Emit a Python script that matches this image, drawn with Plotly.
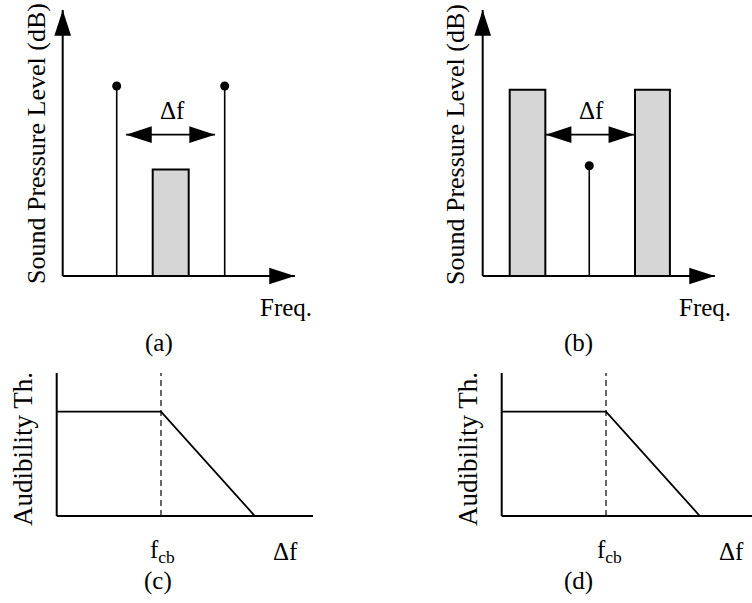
import plotly.graph_objects as go

W, H = 752, 603

# ---------------- data ----------------
# panel (a): two tones around a narrow noise band
a_tone_freqs = [3.0, 9.0]
a_tone_levels = [10.0, 10.0]
a_noise_band = [5.0, 7.0]
a_noise_level = 5.6
a_delta_f = [3.52, 8.46]
a_delta_level = 7.44
# panel (b): a tone between two noise bands
b_noise_bands = [[1.5, 3.48], [8.46, 10.4]]
b_noise_level = 9.8
b_tone_freq = 5.92
b_tone_level = 5.8
b_delta_f = [3.5, 8.42]
# axes extents (a),(b)
ab_x_axis_end = 12.9
ab_y_axis_end = 14.0
# panels (c),(d): audibility threshold vs delta f
th_x_c = [0.0, 1.0, 1.9, 2.457]
th_y_c = [1.0, 1.0, 0.0, 0.0]
th_x_d = [0.0, 1.0, 1.9, 2.4]
th_y_d = [1.0, 1.0, 0.0, 0.0]
fcb = 1.0
cd_y_axis_end = 1.371
cd_x_axis_end_c = 2.457
cd_x_axis_end_d = 2.4

FONT = "Liberation Serif"
INK = "#000000"
GRAY = "#d6d6d6"

# ---------------- panel geometry (px) ----------------
panels = {
    "a": dict(ox=62.7, oy=276, sx=18.0, sy=19.0, xr=[-1.0, 14.0], yr=[-1.0, 14.5]),
    "b": dict(ox=482.7, oy=276, sx=18.0, sy=19.0, xr=[-1.0, 14.0], yr=[-1.0, 14.5]),
    "c": dict(ox=56.7, oy=516, sx=104.3, sy=104.3, xr=[-0.05, 2.6], yr=[-0.05, 1.45]),
    "d": dict(ox=501.7, oy=516, sx=104.3, sy=104.3, xr=[-0.05, 2.45], yr=[-0.05, 1.45]),
}

fig = go.Figure()

axis_ids = {}
for i, key in enumerate(["a", "b", "c", "d"], start=1):
    p = panels[key]
    x0 = max(0.0, p["ox"] + p["xr"][0] * p["sx"])
    x1 = min(float(W), p["ox"] + p["xr"][1] * p["sx"])
    y0 = min(float(H), p["oy"] - p["yr"][0] * p["sy"])
    y1 = max(0.0, p["oy"] - p["yr"][1] * p["sy"])
    # range follows the (clamped) domain so the px-per-unit scale is exact
    xr = [(x0 - p["ox"]) / p["sx"], (x1 - p["ox"]) / p["sx"]]
    yr = [(p["oy"] - y0) / p["sy"], (p["oy"] - y1) / p["sy"]]
    xd = [round(x0 / W, 6), round(x1 / W, 6)]
    yd = [round(1 - y0 / H, 6), round(1 - y1 / H, 6)]
    sfx = "" if i == 1 else str(i)
    fig.layout["xaxis" + sfx] = dict(domain=xd, range=xr, visible=False,
                                     anchor="y" + sfx, fixedrange=True)
    fig.layout["yaxis" + sfx] = dict(domain=yd, range=yr, visible=False,
                                     anchor="x" + sfx, fixedrange=True)
    axis_ids[key] = ("x" + sfx, "y" + sfx)


def line(key, xs, ys, width=2, dash="solid"):
    xa, ya = axis_ids[key]
    fig.add_trace(go.Scatter(x=xs, y=ys, mode="lines", xaxis=xa, yaxis=ya,
                             line=dict(color=INK, width=width, dash=dash),
                             hoverinfo="skip", showlegend=False))


def arrowheads(key, xs, ys, angles, size=27):
    xa, ya = axis_ids[key]
    fig.add_trace(go.Scatter(x=xs, y=ys, mode="markers", xaxis=xa, yaxis=ya,
                             marker=dict(symbol="arrow", size=size, angle=angles,
                                         color=INK, line=dict(width=0)),
                             cliponaxis=False, hoverinfo="skip", showlegend=False))


def bar(key, band, level):
    xa, ya = axis_ids[key]
    fig.add_trace(go.Bar(x=[(band[0] + band[1]) / 2], y=[level], width=[band[1] - band[0]],
                         xaxis=xa, yaxis=ya, marker=dict(color=GRAY, line=dict(color=INK, width=2)),
                         hoverinfo="skip", showlegend=False))


def dots(key, xs, ys):
    xa, ya = axis_ids[key]
    fig.add_trace(go.Scatter(x=xs, y=ys, mode="markers", xaxis=xa, yaxis=ya,
                             marker=dict(symbol="circle", size=9, color=INK),
                             cliponaxis=False, hoverinfo="skip", showlegend=False))


# ---- panel (a)
bar("a", a_noise_band, a_noise_level)
line("a", [0, ab_x_axis_end], [0, 0], width=2)
line("a", [0, 0], [0, ab_y_axis_end], width=2)
arrowheads("a", [ab_x_axis_end, 0], [0, ab_y_axis_end], [90, 0])
for f, lv in zip(a_tone_freqs, a_tone_levels):
    line("a", [f, f], [0, lv], width=1.6)
dots("a", a_tone_freqs, a_tone_levels)
line("a", a_delta_f, [a_delta_level, a_delta_level], width=1.6)
arrowheads("a", a_delta_f, [a_delta_level, a_delta_level], [270, 90], size=27)

# ---- panel (b)
for band in b_noise_bands:
    bar("b", band, b_noise_level)
line("b", [0, ab_x_axis_end], [0, 0], width=2)
line("b", [0, 0], [0, ab_y_axis_end], width=2)
arrowheads("b", [ab_x_axis_end, 0], [0, ab_y_axis_end], [90, 0])
line("b", [b_tone_freq, b_tone_freq], [0, b_tone_level], width=1.6)
dots("b", [b_tone_freq], [b_tone_level])
line("b", b_delta_f, [a_delta_level, a_delta_level], width=1.6)
arrowheads("b", b_delta_f, [a_delta_level, a_delta_level], [270, 90], size=27)

# ---- panels (c) and (d)
for key, tx, ty, xend in (("c", th_x_c, th_y_c, cd_x_axis_end_c), ("d", th_x_d, th_y_d, cd_x_axis_end_d)):
    line(key, [fcb, fcb], [0, cd_y_axis_end], width=1.2, dash="6px,4px")
    line(key, [0, xend], [0, 0], width=2)
    line(key, [0, 0], [0, cd_y_axis_end], width=2)
    line(key, tx, ty, width=1.8)

# ---------------- text ----------------
def px(x, y):
    return x / W, 1 - y / H


def label(text, x, y, size=25, angle=0):
    fx, fy = px(x, y)
    fig.add_annotation(text=text, x=fx, y=fy, xref="paper", yref="paper",
                       showarrow=False, textangle=angle, xanchor="center", yanchor="middle",
                       font=dict(family=FONT, size=size, color=INK))


label("Sound Pressure Level (dB)", 36, 144, size=26, angle=-90)
label("Sound Pressure Level (dB)", 455, 144, size=26, angle=-90)
label("Freq.", 285.5, 307)
label("Freq.", 705, 307)
label("Δf", 172, 111)
label("Δf", 591.5, 111)
label("(a)", 158.5, 343)
label("(b)", 578.5, 343)
label("Audibility Th.", 23, 449, size=27, angle=-90)
label("Audibility Th.", 468, 449, size=27, angle=-90)
label("f<sub>cb</sub>", 162, 551)
label("f<sub>cb</sub>", 609, 551)
label("Δf", 285, 551)
label("Δf", 731, 551)
label("(c)", 157.5, 581)
label("(d)", 578, 581)

fig.update_layout(width=W, height=H, margin=dict(l=0, r=0, t=0, b=0),
                  paper_bgcolor="white", plot_bgcolor="rgba(0,0,0,0)",
                  barmode="overlay", showlegend=False)

fig.write_html("out.html", config={"displayModeBar": False},
               post_script="document.body.style.margin='0';document.body.style.padding='0';")
